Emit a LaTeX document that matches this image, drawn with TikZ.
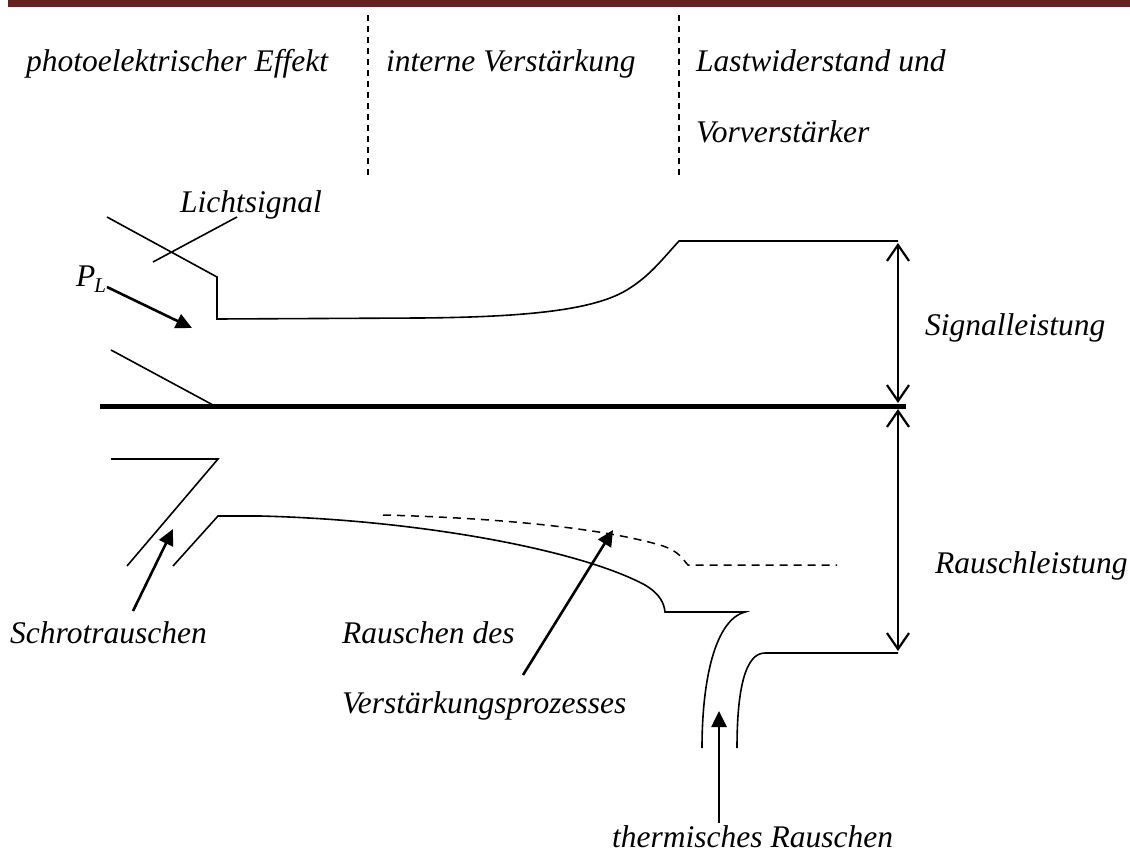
\documentclass[tikz,border=0pt]{standalone}
\usepackage{fontspec}
\setmainfont{Liberation Serif}[ItalicFont={Liberation Serif Italic}]
\usetikzlibrary{arrows.meta}
\definecolor{barred}{RGB}{100,35,35}
\begin{document}
\begin{tikzpicture}[x=1pt,y=-1pt,
  lbl/.style={anchor=base west,inner sep=0pt,font=\itshape\fontsize{31.5}{36}\selectfont},
  thin/.style={line width=1.6pt,line join=miter},
  sep/.style={line width=1.5pt,dash pattern=on 6pt off 5pt},
  dsh/.style={line width=1.5pt,dash pattern=on 8pt off 6pt},
  arr/.style={line width=2.6pt,-{Triangle[length=16pt,width=15pt]}},
  dbl/.style={line width=2.2pt,{Straight Barb[length=16pt,width=22pt]}-{Straight Barb[length=16pt,width=22pt]}},
  base/.style={line width=5pt}]
\useasboundingbox (0,0) rectangle (1130,861);
\fill[barred] (8,0) rectangle (1130,7);

% separators
\draw[sep] (368,15) coordinate (s1a) -- (368,178) coordinate (s1b);
\draw[sep] (679,15) coordinate (s2a) -- (679,178) coordinate (s2b);

% labels
\node[lbl] (pe) at (26,72) {photoelektrischer Effekt};
\node[lbl] (iv) at (386,72) {interne Verstärkung};
\node[lbl] (lw) at (696,72) {Lastwiderstand und};
\node[lbl] (vv) at (696,143) {Vorverstärker};
\node[lbl] (ls) at (180,213) {Lichtsignal};
\node[lbl] (sl) at (925,335) {Signalleistung};
\node[lbl] (rl) at (935,573) {Rauschleistung};
\node[lbl] (sr) at (10,643) {Schrotrauschen};
\node[lbl] (rd) at (342,643) {Rauschen des};
\node[lbl] (vp) at (342,713) {Verstärkungsprozesses};
\node[lbl] (tr) at (612,847) {thermisches Rauschen};
\node[lbl] (pl) at (76,286) {P\kern-1pt\raisebox{-6pt}{\fontsize{21}{24}\selectfont L}};

% baseline
\draw[base] (100,406) coordinate (b0) -- (906,406) coordinate (b1);

% signal path
\draw[thin] (107,217) -- (217,277) -- (217,319) -- (420,318)
  .. controls (540,317) and (600,308) .. (630,288)
  .. controls (650,275) and (660,262) .. (679,241) -- (898,241) coordinate (stop);
\draw[thin] (153,262) coordinate (lsa) -- (237,217) coordinate (lsb);
\draw[thin] (111,350) -- (213,405);
\draw[arr] (107,287) coordinate (pla) -- (192,328) coordinate (plb);

% signal/noise power arrows
\draw[dbl] (898,243) coordinate (sa) -- (898,403) coordinate (sb);
\draw[dbl] (898,409) coordinate (ra) -- (898,651) coordinate (rb);

% noise paths
\draw[thin] (111,459) -- (218,459) -- (127,566);
\draw[thin] (173,566) -- (218,516) -- (260,516)
  .. controls (420,520) and (580,550) .. (645,585)
  .. controls (660,594) and (664,603) .. (665,612) -- (745,612)
  .. controls (715,620) and (702,680) .. (702,748);
\draw[thin] (898,653) -- (765,653) .. controls (745,653) and (737,690) .. (737,748);
\draw[dsh] (383,515) .. controls (500,518) and (600,528) .. (660,545)
  .. controls (680,551) and (683,560) .. (688,565) -- (837,565);

\draw[arr] (133,611) coordinate (sra) -- (173,529) coordinate (srb);
\draw[arr] (523,675) coordinate (rva) -- (613,530) coordinate (rvb);
\draw[arr] (719,823) coordinate (tra) -- (719,711) coordinate (trb);
\end{tikzpicture}
\end{document}
